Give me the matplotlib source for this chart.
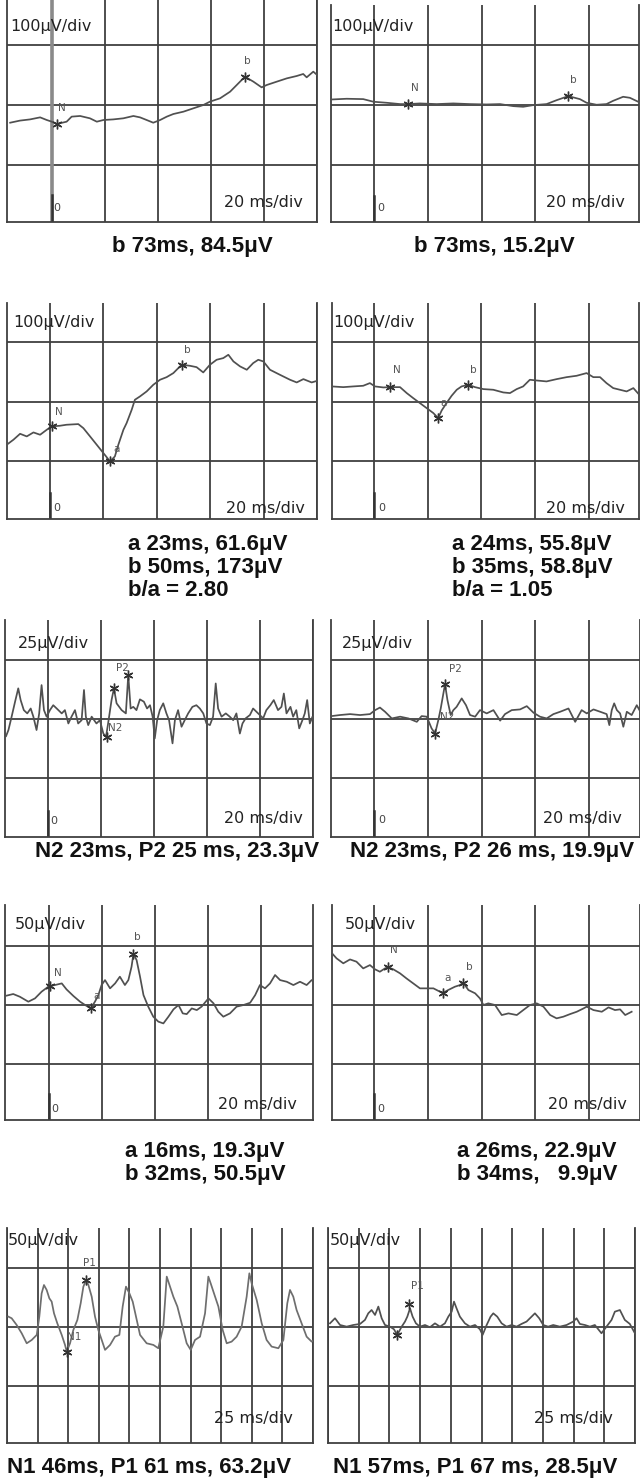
import numpy as np
import matplotlib
matplotlib.use('Agg')
import matplotlib.pyplot as plt

W, H = 640, 1481

# traces: (time in ms, amplitude in uV)
a1_trace = np.array([(-15.8, -29.5), (-12.1, -26), (-8.3, -24), (-4.5, -20.6), (-2.0, -25), (-0.1, -27.8),
    (1.8, -31.7), (5.5, -27.8), (7.4, -19.4), (10.6, -18.3), (14.3, -22.2), (16.9, -27.8), (19.4, -25),
    (23.1, -24), (26.9, -22.2), (30.7, -18.3), (33.2, -20.6), (35.7, -25), (38.2, -29.5), (40.8, -25),
    (43.3, -19.4), (45.8, -15), (49.6, -11.1), (53.3, -5.6), (57.1, 0), (59.6, 5.6), (63.4, 11.1),
    (67.2, 22.2), (69.7, 33.3), (72.8, 47.2), (76.0, 38.9), (79.1, 29.4), (81.0, 33.3), (84.8, 38.9),
    (88.6, 44.4), (92.3, 48.3), (94.8, 51.7), (96.1, 46.1), (98.6, 55.6), (100.5, 48.3)])
b1_trace = np.array([(-15.7, 9.4), (-10.2, 10.6), (-4.0, 10), (-0.2, 5.6), (4.7, 3.9), (9.7, 1.7), (12.8, 1.7),
    (17.1, 2.8), (23.3, 1.7), (29.5, 2.8), (35.7, 1.7), (41.9, 1.1), (46.9, 1.7), (51.8, -1.7), (55.5, -2.8),
    (59.3, 0), (64.2, 1.7), (68.0, 8.3), (72.3, 15), (76.6, 10), (79.1, 3.9), (82.8, 0.6), (86.5, 1.7),
    (89.0, 7.2), (92.7, 13.9), (95.2, 12.2), (98.3, 5.6)])
a2_trace = np.array([(-16.2, -72.2), (-13.7, -63.8), (-11.2, -53.8), (-8.7, -58.2), (-6.2, -51.5), (-3.7, -55.4),
    (-1.2, -47), (0.6, -41.4), (3.7, -40.3), (6.2, -38.6), (10.6, -37.5), (12.5, -44.3), (15.0, -58.2),
    (17.5, -72.2), (20.0, -86.2), (22.5, -100.2), (24.3, -91.8), (25.6, -72.2), (27.5, -47), (28.7, -35.8),
    (30.6, -13.4), (31.8, 3.4), (33.7, 9), (36.2, 17.4), (38.7, 28.6), (41.2, 37), (43.7, 41.4), (46.2, 48.2),
    (49.3, 62.2), (52.4, 60.5), (54.9, 58.2), (57.4, 49.3), (59.9, 62.2), (62.4, 70.6), (64.9, 73.4),
    (66.8, 79), (68.7, 67.8), (71.2, 59.4), (73.7, 53.8), (76.1, 65), (78.0, 70.6), (79.9, 67.8), (82.4, 53.8),
    (86.1, 45.4), (89.9, 37), (92.4, 32.5), (94.9, 38.1), (98.0, 32.5), (100.5, 35.8)])
b2_trace = np.array([(-15.7, 25.8), (-11.4, 24.6), (-7.7, 25.8), (-4.0, 26.9), (-1.5, 31.4), (0.4, 25.8),
    (3.5, 24.1), (6.0, 24.6), (9.7, 24.6), (12.2, 14.6), (14.6, 6.2), (17.1, -2.2), (19.6, -10.6), (22.1, -19),
    (23.9, -27.4), (25.2, -14.6), (27.0, -2.2), (28.9, 10.1), (30.8, 20.2), (32.6, 25.8), (35.1, 28.6),
    (37.6, 24.6), (40.7, 21.3), (44.4, 20.2), (48.1, 15.7), (50.6, 14.6), (53.1, 21.3), (55.5, 25.8), (58.0, 37),
    (60.5, 35.8), (64.2, 34.2), (68.0, 38.1), (71.7, 41.4), (75.4, 43.7), (79.1, 48.2), (81.6, 41.4),
    (84.1, 41.4), (86.5, 31.4), (89.0, 23), (91.5, 20.2), (94.0, 17.4), (96.5, 23), (98.7, 11.8)])
a3_trace = np.array([(-15.8, -7.3), (-14.9, -4.7), (-13.7, 1.0), (-12.4, 7.4), (-11.2, 13.1), (-10.3, 8.1),
    (-9.1, 3.8), (-7.8, 2.4), (-6.5, 4.5), (-5.5, 1.0), (-4.3, -4.7), (-3.3, 2.4), (-2.4, 14.5), (-1.5, 3.8),
    (-0.5, 1.0), (0.75, 3.8), (2.0, 5.9), (3.3, 4.5), (5.2, 2.4), (6.4, 3.8), (7.7, -1.9), (8.9, 1.0),
    (10.2, 3.8), (11.4, -1.9), (12.7, -0.5), (13.6, 12.4), (14.3, 1.0), (15.2, -2.6), (16.5, 1.0),
    (18.3, -1.9), (19.6, -0.5), (20.9, -6.2), (21.9, -7.6), (22.7, -1.9), (24.0, 8.1), (24.9, 13.1),
    (25.9, 6.7), (27.8, 3.8), (29.4, 2.4), (30.3, 18.8), (31.2, 4.5), (32.2, 5.2), (33.4, 3.8), (34.7, 8.4),
    (36.2, 7.4), (37.4, 4.5), (38.5, 5.9), (39.5, 1.0), (40.3, -8.3), (41.2, -0.5), (42.2, 3.8), (43.5, 6.7),
    (44.7, 2.4), (45.7, -0.5), (47.0, -10.4), (47.9, -0.5), (49.1, 3.8), (50.4, -3.3), (51.6, -0.5),
    (52.9, 2.4), (54.5, 5.2), (56.0, 5.9), (57.3, 4.5), (58.6, 2.4), (59.8, -1.9), (61.1, -2.6), (62.3, 1.0),
    (63.3, 15.2), (64.2, 4.5), (65.5, 1.0), (67.1, 2.4), (68.6, 1.0), (69.9, -0.5), (71.1, 2.4), (72.4, -6.2),
    (73.4, -1.9), (74.6, 0.3), (76.2, 1.7), (77.4, 4.5), (79.3, 2.4), (81.2, 0.3), (82.4, 3.8), (83.9, 5.9),
    (85.2, 8.1), (86.8, 3.8), (88.1, 5.2), (89.0, 10.9), (90.0, 2.4), (91.5, 5.2), (92.5, 1.0), (93.7, 3.8),
    (94.8, -4.0), (96.0, -0.5), (96.9, 2.4), (97.8, 8.1), (98.8, -1.9), (99.8, 1.0), (101.0, -4.7)])
b3_trace = np.array([(-15.8, 1.25), (-12.7, 1.7), (-8.9, 2.1), (-5.2, 1.7), (-1.5, 2.1), (0.4, 3.8), (2.2, 4.9),
    (4.1, 3.1), (6.6, 0.25), (9.7, 1.0), (12.8, 0.25), (15.9, -1.2), (17.7, 1.25), (19.6, 1.0), (21.4, -4.0),
    (22.7, -6.2), (23.9, -0.5), (24.8, 4.5), (26.0, 12.3), (26.4, 14.9), (27.3, 8.1), (28.5, 1.7), (29.5, 3.8),
    (30.7, 5.2), (32.6, 8.8), (34.2, 5.9), (35.7, 1.7), (37.6, 1.0), (39.4, 3.8), (41.9, 2.4), (44.4, 3.8),
    (46.9, -0.7), (48.7, 2.1), (51.2, 3.8), (54.3, 4.1), (56.8, 5.5), (59.3, 2.7), (61.7, 1.0), (64.2, 0.25),
    (66.7, 2.1), (69.2, 3.1), (72.3, 4.5), (74.8, -1.2), (77.2, 3.8), (79.1, 2.4), (81.6, 4.1), (84.1, 3.1),
    (86.5, 2.1), (87.5, -2.6), (88.4, 3.8), (89.3, 6.7), (90.3, 3.8), (91.5, 2.4), (92.7, -3.3), (94.0, 3.1),
    (95.8, 1.7), (97.7, 5.9), (98.7, 3.8)])
a4_trace = np.array([(-16.6, 7.6), (-13.5, 9.3), (-11.0, 7.0), (-7.8, 2.8), (-5.3, 5.6), (-2.8, 11.3),
    (-0.3, 15.5), (0.4, 16.1), (2.2, 16.9), (4.8, 18.3), (6.6, 13.2), (9.2, 7.6), (11.7, 2.8), (13.6, 0),
    (15.7, -2.9), (17.3, 2.8), (18.6, 8.4), (19.8, 16.9), (21.1, 21.1), (23.0, 14.1), (24.9, 18.3), (26.7, 24.0),
    (28.6, 16.9), (29.9, 21.1), (31.1, 32.4), (31.8, 43.2), (33.0, 38.1), (34.3, 24.0), (35.6, 8.4),
    (37.4, -1.4), (39.3, -9.9), (41.2, -14.1), (43.1, -15.6), (45.0, -9.9), (46.9, -3.7), (48.8, 0),
    (50.4, -7.1), (51.9, -7.7), (53.8, -2.9), (55.7, -4.3), (57.5, -1.4), (60.1, 5.6), (62.0, 1.4),
    (63.8, -5.7), (65.7, -9.9), (68.2, -7.1), (70.7, -1.4), (73.3, 0), (75.8, 1.9), (77.7, 8.4), (79.5, 16.9),
    (81.4, 14.1), (83.3, 18.3), (85.2, 25.4), (87.1, 21.1), (89.6, 19.7), (92.1, 16.9), (94.6, 19.7),
    (97.1, 16.9), (99.0, 21.1), (100.9, 18.9)])
b4_trace = np.array([(-15.8, 44.3), (-13.9, 39.5), (-11.4, 35.3), (-8.9, 38.6), (-6.5, 36.7), (-4.0, 31.0),
    (-1.5, 33.8), (0.4, 30.2), (2.2, 28.2), (4.1, 31.0), (5.3, 31.9), (7.2, 30.2), (9.7, 26.8), (12.1, 22.5),
    (14.6, 18.3), (17.1, 14.1), (19.6, 14.1), (22.1, 14.1), (24.5, 11.3), (25.8, 10.4), (27.6, 12.7),
    (30.1, 15.5), (32.0, 16.9), (33.2, 18.9), (35.1, 12.7), (37.6, 9.9), (39.4, 5.6), (40.7, 0), (42.5, 1.4),
    (45.0, 0), (47.5, -8.5), (50.0, -7.1), (53.1, -8.5), (55.5, -4.3), (58.0, 0), (60.5, 1.4), (63.0, -1.4),
    (65.5, -8.5), (67.9, -11.3), (70.4, -9.9), (72.9, -7.7), (75.4, -5.7), (77.9, -2.9), (79.1, -1.4),
    (81.6, -4.3), (84.7, -5.7), (87.2, -2.0), (89.6, -4.3), (91.5, -3.7), (93.4, -8.5), (95.8, -5.7)])
a5_trace = np.array([(1.1, 8.8), (3.8, 7.4), (7.9, 1.7), (12.0, -5.3), (16.1, -13.8), (20.2, -11.0), (24.3, -6.7),
    (26.4, 8.8), (28.3, 28.5), (30.2, 35.6), (32.4, 31.4), (34.6, 24.3), (36.5, 21.5), (38.4, 11.6), (41.1, 3.1),
    (44.7, -6.7), (47.4, -15.2), (48.8, -20.9), (51.5, -13.8), (54.2, -2.5), (57.5, 6.0), (60.2, 20.1),
    (62.4, 34.2), (64.6, 39.8), (66.5, 35.6), (69.2, 25.7), (71.9, 8.8), (74.6, -2.5), (77.4, -11.0),
    (80.1, -19.4), (84.2, -15.2), (88.2, -8.2), (91.8, -6.7), (94.5, 17.3), (97.2, 34.2), (100.0, 28.5),
    (102.7, 21.5), (105.4, 8.8), (108.7, -6.7), (114.1, -13.8), (119.6, -15.2), (123.6, -18.0), (127.7, 0.3),
    (130.5, 42.7), (133.2, 34.2), (135.9, 25.7), (139.2, 17.3), (142.7, 3.1), (146.8, -13.8), (150.1, -19.4),
    (153.6, -11.0), (157.7, -8.2), (161.8, 11.6), (164.5, 42.7), (166.4, 37.0), (170.0, 25.7), (172.7, 17.3),
    (176.2, -2.5), (179.5, -13.8), (183.5, -12.4), (187.6, -8.2), (191.7, 0.3), (195.8, 25.7), (198.0, 45.5),
    (199.9, 37.0), (204.0, 22.9), (208.1, 3.1), (212.1, -11.0), (216.2, -16.6), (221.7, -18.0), (225.8, -11.0),
    (229.0, 20.1), (231.2, 31.4), (233.9, 25.7), (236.6, 14.4), (240.7, 3.1), (244.8, -8.2), (248.9, -12.4),
    (252.4, -9.6)])
b5_trace = np.array([(1.6, 3.1), (5.7, 7.4), (9.8, 1.7), (15.2, 0.3), (20.6, 1.7), (26.1, 2.6), (30.1, 6.0),
    (32.8, 11.6), (35.5, 14.4), (38.3, 10.2), (41.0, 17.3), (43.7, 7.4), (46.4, 1.7), (50.5, 0.3), (53.7, -1.9),
    (56.4, -6.7), (60.0, 0.3), (62.7, 4.6), (64.6, 8.8), (66.8, 15.8), (68.9, 8.8), (71.6, 3.1), (74.9, 0.3),
    (79.0, 1.7), (83.0, -0.2), (87.1, 3.1), (91.2, 0.3), (95.2, 3.1), (98.0, 8.8), (100.7, 13.0), (102.6, 21.5),
    (104.7, 15.8), (107.4, 8.8), (111.5, 3.1), (115.6, 0.3), (119.7, 1.7), (123.7, -1.9), (125.9, -6.7),
    (129.2, 1.7), (132.4, 8.8), (134.6, 11.6), (137.8, 8.8), (141.4, 3.1), (145.4, 0.3), (149.5, 1.7),
    (153.6, 0.3), (157.6, 2.6), (161.7, 4.6), (165.8, 8.8), (168.5, 11.6), (172.0, 7.4), (175.3, 1.7),
    (179.3, 0.3), (183.4, 1.7), (188.8, 0.3), (194.3, 1.7), (199.7, 4.6), (202.4, 7.4), (205.1, 2.6),
    (209.2, 1.7), (213.3, 0.3), (217.3, 1.7), (222.7, -5.3), (226.8, 0.3), (230.9, 6.0), (233.6, 13.0),
    (237.7, 14.4), (241.7, 6.0), (245.8, 2.6), (249.9, -5.3)])

# marked components: label, latency (ms), amplitude (uV)
a1_marks = [('N', 1.8, -31.7), ('b', 72.8, 47.2)]
b1_marks = [('N', 12.8, 1.7), ('b', 72.3, 15.0)]
a2_marks = [('N', 0.6, -41.4), ('a', 22.5, -100.2), ('b', 49.3, 62.2)]
b2_marks = [('N', 6.0, 24.6), ('a', 23.9, -27.4), ('b', 35.1, 28.6)]
a3_marks = [('N2', 22.1, -7.6), ('P2', 24.9, 13.1), ('', 30.3, 18.8)]
b3_marks = [('N2', 22.7, -6.2), ('P2', 26.4, 14.9)]
a4_marks = [('N', 0.4, 16.1), ('a', 15.7, -2.9), ('b', 31.8, 43.2)]
b4_marks = [('N', 5.3, 31.9), ('a', 25.8, 10.4), ('b', 33.2, 18.9)]
a5_marks = [('N1', 48.8, -20.9), ('P1', 64.6, 39.8)]
b5_marks = [('', 56.4, -6.7), ('P1', 66.2, 19.5)]

v_scales = ['100μV/div', '100μV/div', '100μV/div', '100μV/div', '25μV/div', '25μV/div',
            '50μV/div', '50μV/div', '50μV/div', '50μV/div']
t_scales = ['20 ms/div'] * 8 + ['25 ms/div'] * 2

captions = [
    ['b 73ms, 84.5μV'], ['b 73ms, 15.2μV'],
    ['a 23ms, 61.6μV', 'b 50ms, 173μV', 'b/a = 2.80'],
    ['a 24ms, 55.8μV', 'b 35ms, 58.8μV', 'b/a = 1.05'],
    ['N2 23ms, P2 25 ms, 23.3μV'], ['N2 23ms, P2 26 ms, 19.9μV'],
    ['a 16ms, 19.3μV', 'b 32ms, 50.5μV'], ['a 26ms, 22.9μV', 'b 34ms,   9.9μV'],
    ['N1 46ms, P1 61 ms, 63.2μV'], ['N1 57ms, P1 67 ms, 28.5μV'],
]

traces = [a1_trace, b1_trace, a2_trace, b2_trace, a3_trace, b3_trace, a4_trace, b4_trace, a5_trace, b5_trace]
marks = [a1_marks, b1_marks, a2_marks, b2_marks, a3_marks, b3_marks, a4_marks, b4_marks, a5_marks, b5_marks]

# layout in pixels: box (left, top, right, bottom), limits, grid steps
layout = [
    dict(box=(7, 0, 317, 222), xlim=(-17, 100), ylim=(-195, 175), dv=100),
    dict(box=(331, 5, 639, 222), xlim=(-16, 98.6), ylim=(-195, 167), dv=100),
    dict(box=(7, 303, 317, 519), xlim=(-16.1, 100), ylim=(-197, 166), dv=100),
    dict(box=(332, 303, 639, 519), xlim=(-15.6, 98.6), ylim=(-197, 166), dv=100),
    dict(box=(5, 620, 313, 837), xlim=(-16.2, 100), ylim=(-50.4, 42.3), dv=25),
    dict(box=(331, 620, 640, 837), xlim=(-16, 98.9), ylim=(-50.4, 42.3), dv=25),
    dict(box=(5, 905, 313, 1120), xlim=(-16.6, 99.5), ylim=(-97.4, 84.7), dv=50),
    dict(box=(332, 905, 640, 1120), xlim=(-15.6, 98.9), ylim=(-97.4, 84.7), dv=50),
    dict(box=(7, 1228, 313, 1443), xlim=(0, 250), ylim=(-98.3, 83.9), dv=50),
    dict(box=(328, 1228, 635, 1443), xlim=(0, 250), ylim=(-98.3, 83.9), dv=50),
]
vscale_pos = [(10, 26), (332, 27), (13, 323), (333, 323), (18, 644), (342, 644),
              (15, 924), (345, 924), (8, 1240), (330, 1240)]
tscale_pos = [(303, 203), (625, 203), (305, 508), (625, 508), (303, 819), (622, 819),
              (297, 1105), (627, 1105), (293, 1419), (613, 1419)]
zero_pos = [(57, 208), (381, 208), (57, 508), (382, 508), (54, 821), (382, 820), (55, 1109), (381, 1109)]
cap_pos = [(112, 252), (414, 252), (128, 550), (452, 550), (35, 857), (350, 857),
           (125, 1157), (457, 1157), (7, 1473), (333, 1473)]
label_off = [
    [(5, 16), (2, 16)], [(6, 16), (5, 16)], [(7, 14), (6, 12), (6, 15)], [(7, 17), (5, 15), (5, 15)],
    [(9, 9), (8, 20), (0, 0)], [(12, 17), (10, 15)], [(8, 13), (6, 12), (4, 17)], [(6, 17), (4, 15), (6, 16)],
    [(7, 15), (3, 17)], [(0, 0), (8, 18)],
]

GRID = '#404040'
TRACE = '#505050'


def fx(x):
    return x / W


def fy(y):
    return 1 - y / H


def main():
    fig = plt.figure(figsize=(W / 100, H / 100), dpi=100)
    fig.patch.set_facecolor('white')

    for i, lay in enumerate(layout):
        l, t, r, b = lay['box']
        ax = fig.add_axes([fx(l), fy(b), (r - l) / W, (b - t) / H])
        ax.set_xlim(*lay['xlim'])
        ax.set_ylim(*lay['ylim'])
        step = 25 if i >= 8 else 20
        ax.set_xticks(np.arange(0, lay['xlim'][1] + 0.1, step))
        ax.set_yticks([-lay['dv'], 0, lay['dv']])
        ax.grid(True, color=GRID, lw=1.3)
        ax.set_axisbelow(True)
        ax.tick_params(length=0, labelbottom=False, labelleft=False)
        ax.spines['top'].set_visible(False)
        for s in ('left', 'right', 'bottom'):
            ax.spines[s].set_color(GRID)
            ax.spines[s].set_linewidth(1.3)

        if i < 8:
            # stimulus onset marker
            y0, y1 = lay['ylim']
            if i == 0:
                ax.axvline(0, color='#8a8a8a', lw=2.6, zorder=1)
            ax.plot([0, 0], [y0, y0 + 0.12 * (y1 - y0)], color='#333333', lw=1.8, zorder=2)

        tr = traces[i]
        col = '#6e6e6e' if i == 8 else TRACE
        ax.plot(tr[:, 0], tr[:, 1], color=col, lw=1.25, zorder=3)

        for (lbl, mt, mv), (dx, dy) in zip(marks[i], label_off[i]):
            ax.plot(mt, mv, marker=(6, 2, 0), ms=7, mew=1.0, color='#333333', zorder=4)
            if lbl:
                ax.annotate(lbl, xy=(mt, mv), xytext=(dx, dy), textcoords='offset pixels',
                            ha='center', va='center', fontsize=7.5, color='#555555',
                            family='DejaVu Sans')

        x, y = vscale_pos[i]
        fig.text(fx(x), fy(y), v_scales[i], ha='left', va='center', fontsize=11.5,
                 color='#222222', family='DejaVu Sans')
        x, y = tscale_pos[i]
        fig.text(fx(x), fy(y), t_scales[i], ha='right', va='center', fontsize=11.5,
                 color='#222222', family='DejaVu Sans')
        if i < 8:
            x, y = zero_pos[i]
            fig.text(fx(x), fy(y), '0', ha='center', va='center', fontsize=8,
                     color='#444444', family='DejaVu Sans')

        x, y = cap_pos[i]
        for k, line in enumerate(captions[i]):
            fig.text(fx(x), fy(y + 23 * k), line, ha='left', va='baseline', fontsize=16,
                     fontweight='bold', color='#111111', family='Liberation Sans')

    fig.savefig('out.png', dpi=100, facecolor='white')


if __name__ == "__main__":
    main()
